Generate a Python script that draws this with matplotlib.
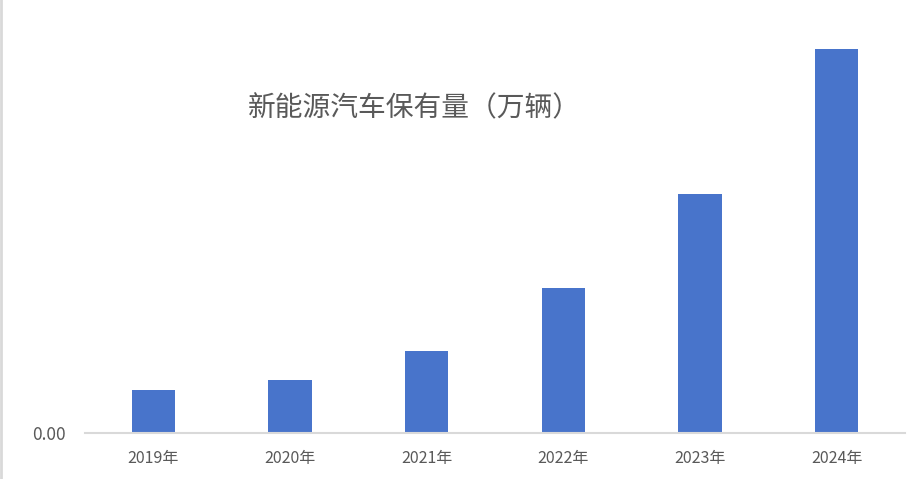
import matplotlib.pyplot as plt
from matplotlib.lines import Line2D

plt.rcParams['font.family'] = ['Noto Sans CJK SC', 'DejaVu Sans']

# Data (万辆)
years = ['2019年', '2020年', '2021年', '2022年', '2023年', '2024年']
stock = [352, 433, 670, 1186, 1954, 3140]

W, H = 913, 479
fig = plt.figure(figsize=(W / 100, H / 100), dpi=100)
# axes box in pixel coordinates: left 85, right 905, baseline 433, top 20
ax = fig.add_axes([85 / W, (H - 433) / H, 820 / W, (433 - 20) / H])

ax.bar(range(len(years)), stock, width=0.315, color='#4874cb', zorder=2)
ax.set_xlim(-0.5, len(years) - 0.5)
ax.set_ylim(0, 3377)

for s in ['top', 'right', 'left']:
    ax.spines[s].set_visible(False)
ax.spines['bottom'].set_color('#d9d9d9')
ax.spines['bottom'].set_linewidth(1.5)

ax.set_xticks(range(len(years)))
ax.set_xticklabels(years, fontsize=11.5, color='#595959')
ax.set_yticks([0])
ax.set_yticklabels(['0.00'], fontsize=12.5, color='#595959')
ax.tick_params(length=0, pad=12)
ax.tick_params(axis='y', pad=14)

fig.text(414 / W, 1 - 108 / H, '新能源汽车保有量（万辆）', ha='center', va='center',
         fontsize=20, color='#595959')

# light frame line at left edge
fig.add_artist(Line2D([1 / W, 1 / W], [0, 1], color='#d9d9d9', linewidth=2,
                      transform=fig.transFigure))

fig.savefig('out.png', dpi=100)
